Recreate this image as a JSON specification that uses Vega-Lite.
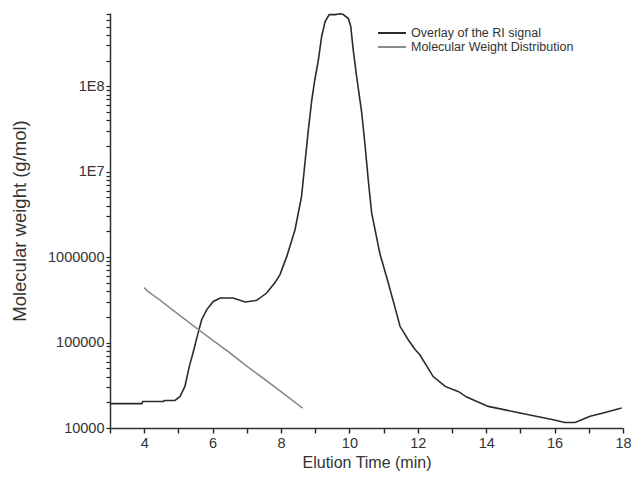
{
  "$schema": "https://vega.github.io/schema/vega-lite/v6.json",
  "width": 513,
  "height": 415,
  "autosize": {"type": "none"},
  "padding": {"left": 110, "top": 13, "right": 8, "bottom": 51},
  "background": "white",
  "config": {
    "view": {"stroke": null},
    "font": "Liberation Sans"
  },
  "data": {
    "values": [
      {"t": 3.0, "mw": 19300, "series": "Overlay of the RI signal"},
      {"t": 3.93, "mw": 19300, "series": "Overlay of the RI signal"},
      {"t": 3.96, "mw": 20400, "series": "Overlay of the RI signal"},
      {"t": 4.55, "mw": 20400, "series": "Overlay of the RI signal"},
      {"t": 4.6, "mw": 21000, "series": "Overlay of the RI signal"},
      {"t": 4.9, "mw": 21000, "series": "Overlay of the RI signal"},
      {"t": 5.05, "mw": 23500, "series": "Overlay of the RI signal"},
      {"t": 5.19, "mw": 30700, "series": "Overlay of the RI signal"},
      {"t": 5.32, "mw": 52700, "series": "Overlay of the RI signal"},
      {"t": 5.44, "mw": 79000, "series": "Overlay of the RI signal"},
      {"t": 5.55, "mw": 118000, "series": "Overlay of the RI signal"},
      {"t": 5.68, "mw": 185000, "series": "Overlay of the RI signal"},
      {"t": 5.83, "mw": 243000, "series": "Overlay of the RI signal"},
      {"t": 6.02, "mw": 303000, "series": "Overlay of the RI signal"},
      {"t": 6.22, "mw": 333000, "series": "Overlay of the RI signal"},
      {"t": 6.6, "mw": 333000, "series": "Overlay of the RI signal"},
      {"t": 6.95, "mw": 299000, "series": "Overlay of the RI signal"},
      {"t": 7.29, "mw": 312000, "series": "Overlay of the RI signal"},
      {"t": 7.58, "mw": 380000, "series": "Overlay of the RI signal"},
      {"t": 7.82, "mw": 500000, "series": "Overlay of the RI signal"},
      {"t": 7.97, "mw": 625000, "series": "Overlay of the RI signal"},
      {"t": 8.17, "mw": 1020000, "series": "Overlay of the RI signal"},
      {"t": 8.41, "mw": 2090000, "series": "Overlay of the RI signal"},
      {"t": 8.6, "mw": 5100000, "series": "Overlay of the RI signal"},
      {"t": 8.7, "mw": 12600000, "series": "Overlay of the RI signal"},
      {"t": 8.8, "mw": 31000000, "series": "Overlay of the RI signal"},
      {"t": 8.9, "mw": 69000000, "series": "Overlay of the RI signal"},
      {"t": 8.99, "mw": 120000000, "series": "Overlay of the RI signal"},
      {"t": 9.09, "mw": 200000000, "series": "Overlay of the RI signal"},
      {"t": 9.19, "mw": 385000000, "series": "Overlay of the RI signal"},
      {"t": 9.29, "mw": 570000000, "series": "Overlay of the RI signal"},
      {"t": 9.41, "mw": 690000000, "series": "Overlay of the RI signal"},
      {"t": 9.58, "mw": 690000000, "series": "Overlay of the RI signal"},
      {"t": 9.73, "mw": 705000000, "series": "Overlay of the RI signal"},
      {"t": 9.82, "mw": 690000000, "series": "Overlay of the RI signal"},
      {"t": 9.97, "mw": 620000000, "series": "Overlay of the RI signal"},
      {"t": 10.04, "mw": 500000000, "series": "Overlay of the RI signal"},
      {"t": 10.11, "mw": 270000000, "series": "Overlay of the RI signal"},
      {"t": 10.21, "mw": 131000000, "series": "Overlay of the RI signal"},
      {"t": 10.36, "mw": 49000000, "series": "Overlay of the RI signal"},
      {"t": 10.46, "mw": 20000000, "series": "Overlay of the RI signal"},
      {"t": 10.55, "mw": 8100000, "series": "Overlay of the RI signal"},
      {"t": 10.65, "mw": 3300000, "series": "Overlay of the RI signal"},
      {"t": 10.75, "mw": 2100000, "series": "Overlay of the RI signal"},
      {"t": 10.89, "mw": 1100000, "series": "Overlay of the RI signal"},
      {"t": 11.09, "mw": 580000, "series": "Overlay of the RI signal"},
      {"t": 11.33, "mw": 260000, "series": "Overlay of the RI signal"},
      {"t": 11.48, "mw": 155000, "series": "Overlay of the RI signal"},
      {"t": 11.72, "mw": 108000, "series": "Overlay of the RI signal"},
      {"t": 11.92, "mw": 83000, "series": "Overlay of the RI signal"},
      {"t": 12.06, "mw": 72000, "series": "Overlay of the RI signal"},
      {"t": 12.45, "mw": 40000, "series": "Overlay of the RI signal"},
      {"t": 12.8, "mw": 30700, "series": "Overlay of the RI signal"},
      {"t": 13.18, "mw": 26800, "series": "Overlay of the RI signal"},
      {"t": 13.43, "mw": 23000, "series": "Overlay of the RI signal"},
      {"t": 14.06, "mw": 17900, "series": "Overlay of the RI signal"},
      {"t": 14.99, "mw": 15000, "series": "Overlay of the RI signal"},
      {"t": 15.96, "mw": 12500, "series": "Overlay of the RI signal"},
      {"t": 16.3, "mw": 11600, "series": "Overlay of the RI signal"},
      {"t": 16.6, "mw": 11600, "series": "Overlay of the RI signal"},
      {"t": 17.04, "mw": 13700, "series": "Overlay of the RI signal"},
      {"t": 17.42, "mw": 15000, "series": "Overlay of the RI signal"},
      {"t": 17.96, "mw": 17100, "series": "Overlay of the RI signal"},
      {"t": 4.0, "mw": 440000, "series": "Molecular Weight Distribution"},
      {"t": 4.1, "mw": 400000, "series": "Molecular Weight Distribution"},
      {"t": 4.5, "mw": 305000, "series": "Molecular Weight Distribution"},
      {"t": 5.0, "mw": 214000, "series": "Molecular Weight Distribution"},
      {"t": 5.5, "mw": 151000, "series": "Molecular Weight Distribution"},
      {"t": 6.0, "mw": 107000, "series": "Molecular Weight Distribution"},
      {"t": 6.5, "mw": 76000, "series": "Molecular Weight Distribution"},
      {"t": 7.0, "mw": 53000, "series": "Molecular Weight Distribution"},
      {"t": 7.5, "mw": 37700, "series": "Molecular Weight Distribution"},
      {"t": 8.0, "mw": 26600, "series": "Molecular Weight Distribution"},
      {"t": 8.63, "mw": 17100, "series": "Molecular Weight Distribution"}
    ]
  },
  "mark": {"type": "line", "strokeWidth": 1.6, "clip": true},
  "encoding": {
    "x": {
      "field": "t",
      "type": "quantitative",
      "scale": {"domain": [3, 18], "nice": false, "zero": false},
      "axis": {
        "title": "Elution Time (min)",
        "titleFontSize": 16,
        "titleFontWeight": "normal",
        "titleColor": "#333333",
        "titlePadding": 5,
        "values": [3, 4, 5, 6, 7, 8, 9, 10, 11, 12, 13, 14, 15, 16, 17, 18],
        "labelExpr": "datum.value % 2 == 0 ? datum.label : ''",
        "labelFontSize": 14.5,
        "labelColor": "#333333",
        "labelPadding": 3,
        "labelFlush": false,
        "labelOverlap": false,
        "grid": false,
        "domainColor": "#333333",
        "domainWidth": 1.5,
        "ticks": true,
        "tickColor": "#222222",
        "tickWidth": 1.4,
        "tickSize": 5
      }
    },
    "y": {
      "field": "mw",
      "type": "quantitative",
      "scale": {"type": "log", "domain": [10000, 720000000], "nice": false},
      "axis": {
        "title": "Molecular weight (g/mol)",
        "titleFontSize": 18.5,
        "titleFontWeight": "normal",
        "titleColor": "#333333",
        "titlePadding": 18,
        "values": [10000, 20000, 30000, 40000, 50000, 60000, 70000, 80000, 90000, 100000, 200000, 300000, 400000, 500000, 600000, 700000, 800000, 900000, 1000000, 2000000, 3000000, 4000000, 5000000, 6000000, 7000000, 8000000, 9000000, 10000000, 20000000, 30000000, 40000000, 50000000, 60000000, 70000000, 80000000, 90000000, 100000000, 200000000, 300000000, 400000000, 500000000, 600000000, 700000000],
        "labelExpr": "abs(log(datum.value)/LN10 - round(log(datum.value)/LN10)) < 0.000001 ? (datum.value >= 10000000 ? '1E' + round(log(datum.value)/LN10) : format(datum.value, 'd')) : ''",
        "labelFontSize": 14.5,
        "labelColor": "#333333",
        "labelPadding": 2,
        "labelFlush": false,
        "labelOverlap": false,
        "grid": false,
        "domainColor": "#333333",
        "domainWidth": 1.5,
        "ticks": true,
        "tickColor": "#222222",
        "tickWidth": 1.2,
        "tickSize": 4
      }
    },
    "color": {
      "field": "series",
      "type": "nominal",
      "scale": {
        "domain": ["Overlay of the RI signal", "Molecular Weight Distribution"],
        "range": ["#2b2b2b", "#8c8c8c"]
      },
      "legend": {
        "title": null,
        "orient": "none",
        "legendX": 267,
        "legendY": 13,
        "symbolType": "stroke",
        "symbolSize": 784,
        "symbolStrokeWidth": 2,
        "labelFontSize": 12.5,
        "labelColor": "#333333",
        "labelOffset": 4,
        "labelLimit": 0,
        "clipHeight": 14,
        "rowPadding": 0
      }
    }
  }
}
